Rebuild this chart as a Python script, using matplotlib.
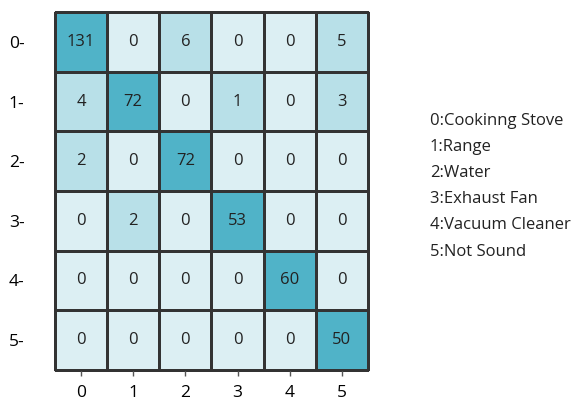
import matplotlib.pyplot as plt
from matplotlib.colors import ListedColormap, BoundaryNorm
import numpy as np

""" Data """
labels = ["0", "1", "2", "3", "4", "5"]
class_names = ["Cookinng Stove", "Range", "Water", "Exhaust Fan", "Vacuum Cleaner", "Not Sound"]
cm = np.array([
    [131, 0, 6, 0, 0, 5],
    [4, 72, 0, 1, 0, 3],
    [2, 0, 72, 0, 0, 0],
    [0, 2, 0, 53, 0, 0],
    [0, 0, 0, 0, 60, 0],
    [0, 0, 0, 0, 0, 50],
])

plt.rcParams['font.family'] = ['Open Sans', 'DejaVu Sans']

cmap = ListedColormap(["#dceff3", "#b8e0e8", "#50b3c8"])
norm = BoundaryNorm([0, 1, 10, 1000], cmap.N)

fig = plt.figure(figsize=(5.73, 4.03), dpi=100)
ax = fig.add_axes([0.096, 0.082, 0.546, 0.888])
mesh = ax.pcolormesh(cm, cmap=cmap, norm=norm, edgecolors="#333333", linewidth=0.8)
mesh.set_clip_on(False)
ax.set_xlim(0, 6)
ax.set_ylim(6, 0)

for i in range(cm.shape[0]):
    for j in range(cm.shape[1]):
        ax.text(j + 0.5, i + 0.5, str(cm[i, j]), ha="center", va="center",
                fontsize=12, color="#222222")

ax.set_xticks(np.arange(6) + 0.5)
ax.set_xticklabels(labels, fontsize=12.5)
ax.set_yticks(np.arange(6) + 0.5)
ax.set_yticklabels([l + "-" for l in labels], fontsize=12.5)
ax.tick_params(axis="x", length=4, width=1, color="#555555", pad=7)
ax.tick_params(axis="y", length=0, pad=22)
for s in ax.spines.values():
    s.set_color("#333333")
    s.set_linewidth(1.0)

legend_text = "\n".join("{}:{}".format(l, n) for l, n in zip(labels, class_names))
fig.text(0.750, 0.538, legend_text, ha="left", va="center", fontsize=12,
         linespacing=1.85, color="#222222")

fig.savefig("out.png", dpi=100)
